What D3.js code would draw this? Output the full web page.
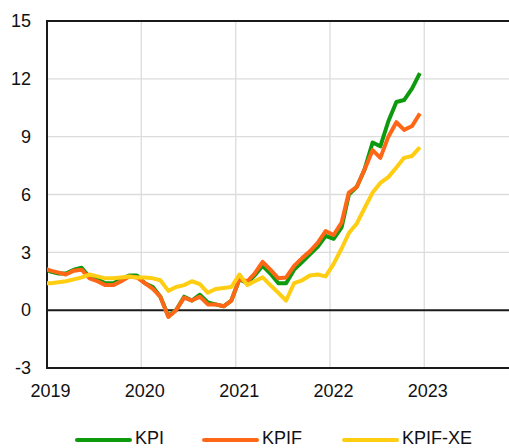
<!DOCTYPE html>
<html>
<head>
<meta charset="utf-8">
<script src="https://cdn.jsdelivr.net/npm/d3@7"></script>
<style>
  html, body { margin: 0; padding: 0; background: #fff; }
  svg { display: block; font-family: Arial, "Liberation Sans", sans-serif; }
</style>
</head>
<body>
<div id="chart"></div>
<script>
// months from Dec 2018 to Dec 2022 (annual % change)
var startYear = 2018, startMonth = 11;

var kpi = [2.2,
  2.0, 1.9, 1.9, 2.1, 2.2, 1.7, 1.6, 1.4, 1.4, 1.6, 1.8, 1.8,
  1.4, 1.2, 0.7, -0.3, 0.0, 0.7, 0.5, 0.8, 0.4, 0.3, 0.2, 0.5,
  1.6, 1.4, 1.8, 2.3, 1.9, 1.4, 1.4, 2.1, 2.5, 2.9, 3.3, 3.85,
  3.7, 4.3, 6.0, 6.4, 7.3, 8.7, 8.5, 9.8, 10.8, 10.9, 11.5, 12.3];

var kpif = [2.2,
  2.05, 1.95, 1.85, 2.05, 2.1, 1.65, 1.5, 1.3, 1.3, 1.5, 1.75, 1.7,
  1.4, 1.1, 0.7, -0.35, 0.0, 0.65, 0.5, 0.7, 0.3, 0.3, 0.2, 0.5,
  1.6, 1.5, 1.9, 2.5, 2.1, 1.65, 1.7, 2.3, 2.7, 3.05, 3.5, 4.1,
  3.9, 4.55, 6.1, 6.4, 7.3, 8.3, 7.9, 9.0, 9.75, 9.35, 9.55, 10.2];

var kpifxe = [1.4,
  1.4, 1.45, 1.5, 1.6, 1.7, 1.85, 1.75, 1.65, 1.65, 1.7, 1.75, 1.7,
  1.7, 1.65, 1.55, 1.0, 1.2, 1.3, 1.5, 1.35, 0.9, 1.1, 1.15, 1.2,
  1.85, 1.3, 1.5, 1.7, 1.3, 0.9, 0.5, 1.4, 1.55, 1.8, 1.85, 1.75,
  2.4, 3.2, 4.0, 4.5, 5.3, 6.1, 6.6, 6.9, 7.4, 7.9, 8.0, 8.45];

var yTicks = [-3, 0, 3, 6, 9, 12, 15];
var xYears = [2019, 2020, 2021, 2022, 2023];

var series = [
  {name: "KPI", color: "#0e9a0e", values: kpi},
  {name: "KPIF", color: "#ff6716", values: kpif},
  {name: "KPIF-XE", color: "#ffcd12", values: kpifxe}
];

var W = 509, H = 448;
var plot = {left: 47, top: 21, right: 509, bottom: 368};

var x = d3.scaleTime()
  .domain([new Date(2019, 0, 1), new Date(2024, 0, 1)])
  .range([plot.left, 518.5]);
var y = d3.scaleLinear().domain([-3, 15]).range([plot.bottom, plot.top]);

function monthDate(i) { return new Date(startYear, startMonth + i, 15); }

var svg = d3.select("#chart").append("svg")
  .attr("width", W).attr("height", H);

svg.append("clipPath").attr("id", "clip")
  .append("rect")
    .attr("x", plot.left).attr("y", plot.top)
    .attr("width", plot.right - plot.left).attr("height", plot.bottom - plot.top);

// grid
svg.append("g").selectAll("line")
  .data(yTicks.filter(d => d != 0 && d != -3 && d != 15))
  .enter().append("line")
    .attr("x1", plot.left).attr("x2", plot.right)
    .attr("y1", d => y(d)).attr("y2", d => y(d))
    .attr("stroke", "#dcdcdc").attr("stroke-width", 1.3);

svg.append("g").selectAll("line")
  .data(xYears.slice(1))
  .enter().append("line")
    .attr("x1", d => x(new Date(d, 0, 1))).attr("x2", d => x(new Date(d, 0, 1)))
    .attr("y1", plot.top).attr("y2", plot.bottom)
    .attr("stroke", "#dcdcdc").attr("stroke-width", 1.3);

// frame + zero line
var frame = svg.append("g").attr("stroke", "#1a1a1a").attr("stroke-width", 2);
frame.append("line").attr("x1", plot.left).attr("x2", plot.right).attr("y1", plot.top).attr("y2", plot.top);
frame.append("line").attr("x1", plot.left).attr("x2", plot.right).attr("y1", plot.bottom).attr("y2", plot.bottom);
frame.append("line").attr("x1", plot.left).attr("x2", plot.left).attr("y1", plot.top - 1).attr("y2", plot.bottom + 1);
frame.append("line").attr("x1", plot.left).attr("x2", plot.right).attr("y1", y(0)).attr("y2", y(0));

// lines
var line = d3.line()
  .x((d, i) => x(monthDate(i)))
  .y(d => y(d));

svg.append("g").attr("clip-path", "url(#clip)")
  .selectAll("path")
  .data(series)
  .enter().append("path")
    .attr("fill", "none")
    .attr("stroke", d => d.color)
    .attr("stroke-width", 4)
    .attr("stroke-linejoin", "round")
    .attr("d", d => line(d.values));

// tick labels
svg.append("g").selectAll("text")
  .data(yTicks)
  .enter().append("text")
    .attr("x", 31).attr("y", d => y(d))
    .attr("dy", "0.35em")
    .attr("text-anchor", "end")
    .attr("font-size", 18)
    .attr("fill", "#111")
    .text(d => d);

svg.append("g").selectAll("text")
  .data(xYears)
  .enter().append("text")
    .attr("x", d => x(new Date(d, 0, 1)) + 3.5).attr("y", 397)
    .attr("text-anchor", "middle")
    .attr("font-size", 18)
    .attr("fill", "#111")
    .text(d => d);

// legend
var legendX = [77, 204, 344];
var lg = svg.append("g").selectAll("g")
  .data(series)
  .enter().append("g")
    .attr("transform", (d, i) => "translate(" + legendX[i] + ",440)");
lg.append("line")
  .attr("x1", 0).attr("x2", 53)
  .attr("stroke", d => d.color).attr("stroke-width", 4)
  .attr("stroke-linecap", "round");
lg.append("text")
  .attr("x", 58).attr("y", 4)
  .attr("font-size", 18)
  .attr("fill", "#111")
  .text(d => d.name);
</script>
</body>
</html>
